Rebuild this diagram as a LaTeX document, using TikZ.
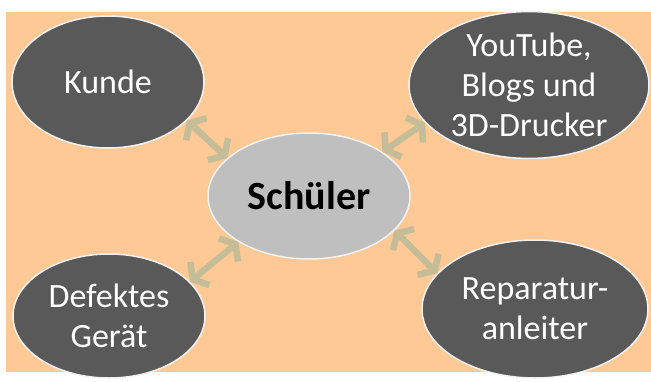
\documentclass[tikz,border=0pt]{standalone}
\usepackage{fontspec}
\setmainfont{Carlito}
\usetikzlibrary{shapes.geometric,arrows.meta}
\definecolor{peach}{HTML}{FEC995}
\definecolor{darkell}{HTML}{595959}
\definecolor{lightell}{HTML}{BFBFBF}
\definecolor{arrowc}{HTML}{C4BD97}
\definecolor{rimc}{HTML}{F2F2F2}
\tikzset{
  outer/.style={ellipse, fill=darkell, draw=rimc, line width=1.5pt, inner sep=0pt,
    text=white, align=center, font=\fontsize{34}{40}\selectfont},
  center/.style={ellipse, fill=lightell, draw=rimc, line width=1.5pt, inner sep=0pt,
    text=black, font=\fontsize{40}{48}\selectfont\bfseries},
  link/.style={draw=arrowc, line width=6.5pt,
    {Straight Barb[length=9pt,width=30pt]}-{Straight Barb[length=9pt,width=30pt]}}
}
\begin{document}
\begin{tikzpicture}[x=1pt,y=-1pt]
\useasboundingbox (0,0) rectangle (651,381);
\fill[peach] (6,12) rectangle (651,372);
\node[outer, minimum width=192pt, minimum height=132pt] (kunde) at (108,82) {Kunde};
\node[outer, minimum width=240pt, minimum height=136pt] (yt) at (529,85) {YouTube,\\Blogs und\\3D-Drucker};
\node[outer, minimum width=192pt, minimum height=124pt] (def) at (109,316) {Defektes\\Gerät};
\node[outer, minimum width=226pt, minimum height=138pt] (rep) at (535,309) {Reparatur-\\anleiter};
\node[center, minimum width=202pt, minimum height=126pt] (s) at (309,196) {Schüler};
\draw[link] (kunde.-26) -- (s.155);
\draw[link] (yt.200) -- (s.31);
\draw[link] (def.23) -- (s.213);
\draw[link] (rep.160) -- (s.-22);
\end{tikzpicture}
\end{document}
